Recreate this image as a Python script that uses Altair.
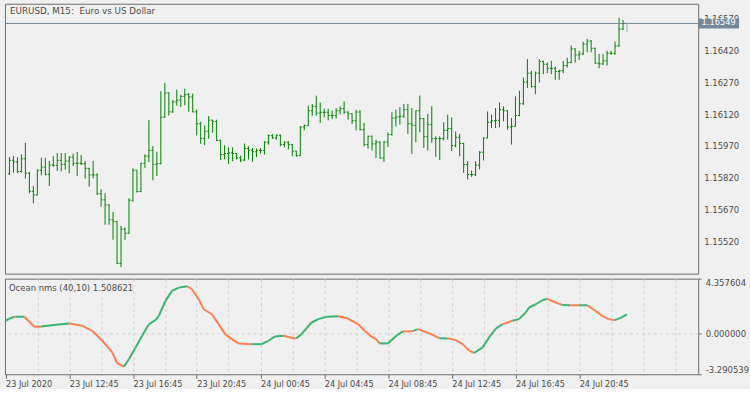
import altair as alt
import pandas as pd

# ---------------- data ----------------
bar_open = [
    1.15842, 1.15905, 1.15897, 1.15852, 1.15912, 1.15844, 1.15759, 1.15742, 1.15858, 1.15873,
    1.15839, 1.15883, 1.15881, 1.15905, 1.15886, 1.15902, 1.15920, 1.15891, 1.15891, 1.15889,
    1.15867, 1.15836, 1.15836, 1.15748, 1.15719, 1.15695, 1.15625, 1.15617, 1.15420, 1.15581,
    1.15562, 1.15717, 1.15858, 1.15758, 1.15891, 1.15925, 1.15952, 1.15886, 1.15889, 1.16108,
    1.16222, 1.16133, 1.16180, 1.16188, 1.16206, 1.16214, 1.16203, 1.16133, 1.16077, 1.16008,
    1.16042, 1.16094, 1.16088, 1.15998, 1.15932, 1.15937, 1.15940, 1.15937, 1.15916, 1.15906,
    1.15960, 1.15952, 1.15945, 1.15952, 1.15951, 1.15990, 1.16021, 1.16010, 1.16023, 1.15979,
    1.15990, 1.15979, 1.15948, 1.15927, 1.16062, 1.16068, 1.16138, 1.16159, 1.16127, 1.16131,
    1.16131, 1.16116, 1.16116, 1.16138, 1.16148, 1.16132, 1.16124, 1.16091, 1.16132, 1.16049,
    1.15979, 1.16018, 1.15982, 1.15991, 1.15916, 1.15991, 1.16026, 1.16104, 1.16109, 1.16112,
    1.16143, 1.16077, 1.16070, 1.16138, 1.16101, 1.16016, 1.16073, 1.16007, 1.16007, 1.16007,
    1.16046, 1.16054, 1.15974, 1.16013, 1.15984, 1.15885, 1.15838, 1.15838, 1.15882, 1.15943,
    1.16010, 1.16084, 1.16091, 1.16093, 1.16143, 1.16138, 1.16062, 1.16065, 1.16116, 1.16171,
    1.16273, 1.16315, 1.16252, 1.16315, 1.16370, 1.16357, 1.16338, 1.16338, 1.16323, 1.16326,
    1.16351, 1.16365, 1.16429, 1.16401, 1.16406, 1.16452, 1.16466, 1.16432, 1.16362, 1.16359,
    1.16373, 1.16409, 1.16409, 1.16443, 1.16523,
]
bar_high = [
    1.15920, 1.15925, 1.15920, 1.15933, 1.15987, 1.15850, 1.15784, 1.15862, 1.15917, 1.15917,
    1.15902, 1.15925, 1.15939, 1.15939, 1.15939, 1.15925, 1.15936, 1.15944, 1.15930, 1.15902,
    1.15870, 1.15902, 1.15844, 1.15769, 1.15750, 1.15698, 1.15662, 1.15620, 1.15597, 1.15589,
    1.15727, 1.15867, 1.15859, 1.15893, 1.15933, 1.16094, 1.15972, 1.15945, 1.16230, 1.16269,
    1.16225, 1.16188, 1.16237, 1.16214, 1.16242, 1.16222, 1.16219, 1.16144, 1.16086, 1.16069,
    1.16113, 1.16096, 1.16096, 1.16002, 1.15976, 1.15966, 1.15966, 1.15940, 1.15927, 1.15984,
    1.15971, 1.15963, 1.15960, 1.15963, 1.15995, 1.16026, 1.16029, 1.16026, 1.16026, 1.15995,
    1.15995, 1.15982, 1.15950, 1.16065, 1.16073, 1.16162, 1.16170, 1.16209, 1.16177, 1.16148,
    1.16148, 1.16140, 1.16151, 1.16159, 1.16182, 1.16135, 1.16126, 1.16143, 1.16140, 1.16081,
    1.16021, 1.16021, 1.16002, 1.15995, 1.15995, 1.16037, 1.16131, 1.16143, 1.16156, 1.16170,
    1.16171, 1.16151, 1.16140, 1.16210, 1.16104, 1.16123, 1.16159, 1.16018, 1.16018, 1.16084,
    1.16120, 1.16107, 1.16041, 1.16029, 1.15987, 1.15901, 1.15857, 1.15901, 1.15948, 1.16013,
    1.16135, 1.16120, 1.16151, 1.16177, 1.16159, 1.16141, 1.16104, 1.16206, 1.16232, 1.16295,
    1.16381, 1.16326, 1.16323, 1.16381, 1.16374, 1.16365, 1.16373, 1.16346, 1.16331, 1.16373,
    1.16388, 1.16445, 1.16432, 1.16420, 1.16463, 1.16476, 1.16471, 1.16435, 1.16406, 1.16404,
    1.16420, 1.16420, 1.16463, 1.16576, 1.16565,
]
bar_low = [
    1.15836, 1.15847, 1.15844, 1.15848, 1.15819, 1.15750, 1.15702, 1.15740, 1.15834, 1.15834,
    1.15784, 1.15875, 1.15855, 1.15852, 1.15861, 1.15844, 1.15878, 1.15831, 1.15883, 1.15819,
    1.15781, 1.15820, 1.15742, 1.15687, 1.15602, 1.15602, 1.15531, 1.15417, 1.15402, 1.15530,
    1.15560, 1.15711, 1.15753, 1.15755, 1.15869, 1.15897, 1.15811, 1.15831, 1.15886, 1.16105,
    1.16116, 1.16128, 1.16162, 1.16156, 1.16164, 1.16133, 1.16131, 1.16022, 1.15983, 1.15977,
    1.16006, 1.16034, 1.15995, 1.15906, 1.15909, 1.15888, 1.15901, 1.15909, 1.15896, 1.15901,
    1.15909, 1.15898, 1.15920, 1.15937, 1.15932, 1.15979, 1.16007, 1.16002, 1.15971, 1.15966,
    1.15956, 1.15924, 1.15921, 1.15924, 1.16046, 1.16066, 1.16115, 1.16115, 1.16081, 1.16107,
    1.16093, 1.16099, 1.16101, 1.16120, 1.16123, 1.16096, 1.16076, 1.16045, 1.16046, 1.15971,
    1.15959, 1.15951, 1.15916, 1.15912, 1.15898, 1.15968, 1.16021, 1.16065, 1.16073, 1.16104,
    1.16029, 1.15935, 1.15990, 1.16037, 1.15963, 1.15951, 1.15987, 1.15921, 1.15906, 1.15998,
    1.16002, 1.15948, 1.15966, 1.15924, 1.15846, 1.15815, 1.15827, 1.15831, 1.15862, 1.15904,
    1.16008, 1.16057, 1.16057, 1.16060, 1.16088, 1.16049, 1.15979, 1.16063, 1.16112, 1.16166,
    1.16245, 1.16248, 1.16216, 1.16271, 1.16310, 1.16315, 1.16310, 1.16284, 1.16284, 1.16315,
    1.16341, 1.16363, 1.16365, 1.16377, 1.16401, 1.16413, 1.16413, 1.16359, 1.16338, 1.16354,
    1.16351, 1.16401, 1.16401, 1.16440, 1.16518,
]
bar_close = [
    1.15905, 1.15897, 1.15852, 1.15912, 1.15844, 1.15759, 1.15742, 1.15858, 1.15873, 1.15839,
    1.15883, 1.15881, 1.15905, 1.15886, 1.15902, 1.15920, 1.15891, 1.15891, 1.15889, 1.15867,
    1.15836, 1.15836, 1.15748, 1.15719, 1.15695, 1.15625, 1.15617, 1.15420, 1.15581, 1.15562,
    1.15717, 1.15858, 1.15758, 1.15891, 1.15925, 1.15952, 1.15886, 1.15889, 1.16108, 1.16222,
    1.16133, 1.16180, 1.16188, 1.16206, 1.16214, 1.16203, 1.16133, 1.16077, 1.16008, 1.16042,
    1.16094, 1.16088, 1.15998, 1.15932, 1.15937, 1.15940, 1.15937, 1.15916, 1.15906, 1.15960,
    1.15952, 1.15945, 1.15952, 1.15951, 1.15990, 1.16021, 1.16010, 1.16023, 1.15979, 1.15990,
    1.15979, 1.15948, 1.15927, 1.16062, 1.16068, 1.16138, 1.16159, 1.16127, 1.16131, 1.16131,
    1.16116, 1.16116, 1.16138, 1.16148, 1.16132, 1.16124, 1.16091, 1.16132, 1.16049, 1.15979,
    1.16018, 1.15982, 1.15991, 1.15916, 1.15991, 1.16026, 1.16104, 1.16109, 1.16112, 1.16143,
    1.16077, 1.16070, 1.16138, 1.16101, 1.16016, 1.16073, 1.16007, 1.16007, 1.16007, 1.16046,
    1.16054, 1.15974, 1.16013, 1.15984, 1.15885, 1.15838, 1.15838, 1.15882, 1.15943, 1.16010,
    1.16084, 1.16091, 1.16093, 1.16143, 1.16138, 1.16062, 1.16065, 1.16116, 1.16171, 1.16273,
    1.16315, 1.16252, 1.16315, 1.16370, 1.16357, 1.16338, 1.16338, 1.16323, 1.16326, 1.16351,
    1.16365, 1.16429, 1.16401, 1.16406, 1.16452, 1.16466, 1.16432, 1.16362, 1.16359, 1.16373,
    1.16409, 1.16409, 1.16443, 1.16523, 1.16549,
]

bid_price = 1.16549
live_bar = {"i": 155, "lo": 1.16507, "hi": 1.16554}

# indicator "Ocean nms (40,10)": bar position, value, colour of the segment that starts there
ind_x = [-1, 0, 1.25, 1.65, 3.75, 5, 6.25, 7.9, 11.65, 15, 18.3, 20.8, 23.3, 25.8, 27, 28.75,
         30, 31.65, 33.3, 35, 36.65, 37.5, 39.15, 40.8, 42.5, 44.6, 45.8, 47.5, 48.75, 50.8,
         52.5, 54.15, 55.8, 57.5, 60.8, 63.3, 65, 66.65, 68.75, 70.8, 72, 73.3, 75.8, 77.5,
         79.6, 82.5, 85, 87.5, 89.15, 90.8, 92, 92.9, 95, 97.1, 98.75, 101.25, 102.5, 105.4,
         107.9, 110, 112.1, 113.75, 115.4, 116.65, 118.75, 120.4, 122.1, 123.75, 126.25, 127.9,
         129.6, 130.4, 132.1, 133.75, 135, 137.1, 138.75, 140.8, 142.9, 145, 147.1, 148.75,
         150.4, 151.9, 153.3, 155]
ind_v = [0.99, 1.17, 1.31, 1.31, 1.31, 0.91, 0.51, 0.53, 0.67, 0.77, 0.59, 0.19, -0.61, -1.54,
         -2.39, -2.68, -2.07, -1.14, -0.21, 0.72, 1.04, 1.39, 2.58, 3.38, 3.64, 3.75, 3.51, 2.71,
         1.91, 1.51, 0.72, -0.08, -0.48, -0.82, -0.88, -0.88, -0.61, -0.26, -0.21, -0.37, -0.42,
         -0.08, 0.85, 1.12, 1.31, 1.35, 1.17, 0.72, 0.19, -0.26, -0.48, -0.82, -0.82, -0.21,
         0.14, 0.16, 0.32, -0.02, -0.40, -0.42, -0.56, -0.88, -1.40, -1.59, -1.14, -0.34, 0.37,
         0.72, 0.99, 1.12, 1.65, 2.05, 2.31, 2.63, 2.74, 2.45, 2.26, 2.23, 2.23, 2.23, 1.78,
         1.39, 1.12, 1.04, 1.20, 1.51]
ind_col = ["up", "up", "dn", "up", "dn", "dn", "dn", "up", "up", "dn", "dn", "dn", "dn", "dn",
           "dn", "up", "up", "up", "up", "up", "up", "up", "up", "up", "up", "dn", "dn", "dn",
           "dn", "dn", "dn", "dn", "dn", "dn", "up", "up", "up", "up", "dn", "dn", "up", "up",
           "up", "up", "up", "dn", "dn", "dn", "dn", "dn", "dn", "up", "up", "up", "dn", "up",
           "dn", "dn", "up", "dn", "dn", "dn", "dn", "up", "up", "up", "up", "dn", "up", "up",
           "up", "up", "up", "up", "dn", "dn", "up", "dn", "up", "dn", "dn", "dn", "dn", "up",
           "up"]
ind_name = "Ocean nms (40,10) 1.508621"
ind_ticks = [-3.290539, 0.0, 4.357604]

price_ticks = [1.15520, 1.15670, 1.15820, 1.15970, 1.16120, 1.16270, 1.16420, 1.16570]
time_pos = [-1, 15, 31, 47, 63, 79, 95, 111, 127, 143]
time_text = ["23 Jul 2020", "23 Jul 12:45", "23 Jul 16:45", "23 Jul 20:45", "24 Jul 00:45",
             "24 Jul 04:45", "24 Jul 08:45", "24 Jul 12:45", "24 Jul 16:45", "24 Jul 20:45"]
grid_pos = [7, 15, 23, 31, 39, 47, 55, 63, 71, 79, 87, 95, 103, 111, 119, 127, 135, 143,
            151, 159, 167]
chart_title = "EURUSD, M15:\u00a0 Euro vs US Dollar"

# ---------------- styling ----------------
BG = "#f0f0f0"
FRAME = "#6e6e6e"
GRID = "#d2d2d2"
TXT = "#4c4c4c"
BAR = "#008000"
UP = "#3cb371"
DN = "#ff7f50"
BIDC = "#778899"
FONT = "DejaVu Sans"

W = 696
H_MAIN = 271
H_IND = 96

xs = alt.Scale(domain=[-1.125, -1.125 + W / 4], nice=False, zero=False)
ys = alt.Scale(domain=[1.1537141, 1.1664172], nice=False, zero=False)
ysi = alt.Scale(domain=[ind_ticks[0], ind_ticks[-1]], nice=False, zero=False)

bars = pd.DataFrame({"i": list(range(len(bar_open))), "o": bar_open, "h": bar_high,
                     "l": bar_low, "c": bar_close})

main_x_axis = alt.Axis(values=grid_pos, labels=False, ticks=False, domain=False, title=None,
                       grid=True, minExtent=0, maxExtent=0)
main_y_axis = alt.Axis(orient="right", values=price_ticks, labels=False, title=None,
                       grid=True, tickSize=3, domain=False, minExtent=0)

hl = alt.Chart(bars).mark_rule(color=BAR, strokeWidth=1).encode(
    x=alt.X("i:Q", scale=xs, axis=main_x_axis),
    y=alt.Y("l:Q", scale=ys, axis=main_y_axis),
    y2="h:Q",
)
op = alt.Chart(bars).transform_calculate(a="datum.i - 0.375").mark_rule(
    color=BAR, strokeWidth=1).encode(x=alt.X("a:Q", scale=xs, axis=None), x2="i:Q",
                                     y=alt.Y("o:Q", scale=ys, axis=None))
cl = alt.Chart(bars).transform_calculate(b="datum.i + 0.375").mark_rule(
    color=BAR, strokeWidth=1).encode(x=alt.X("i:Q", scale=xs, axis=None), x2="b:Q",
                                     y=alt.Y("c:Q", scale=ys, axis=None))

price_lab = alt.Chart(pd.DataFrame({"p": price_ticks})).mark_text(
    align="left", baseline="middle", font=FONT, fontSize=8.5, color=TXT).encode(
    x=alt.value(W + 6), y=alt.Y("p:Q", scale=ys, axis=None), text=alt.Text("p:Q", format=".5f"))

bid_df = pd.DataFrame({"p": [bid_price]})
bid_line = alt.Chart(bid_df).mark_rule(color=BIDC, strokeWidth=1).encode(
    y=alt.Y("p:Q", scale=ys, axis=None), x=alt.value(0), x2=alt.value(W))
bid_box = alt.Chart(bid_df).mark_point(
    shape="M -1 -0.244 L 1 -0.244 L 1 0.244 L -1 0.244 Z", size=1681, filled=True,
    opacity=1, color=BIDC, strokeWidth=0).encode(
    x=alt.value(W + 20.5), y=alt.Y("p:Q", scale=ys, axis=None))
bid_txt = alt.Chart(bid_df).mark_text(color="white", font=FONT, fontSize=8.3,
                                      align="center", baseline="middle").encode(
    x=alt.value(W + 20.5), y=alt.Y("p:Q", scale=ys, axis=None),
    text=alt.Text("p:Q", format=".5f"))

live_df = pd.DataFrame([live_bar])
live = alt.Chart(live_df).mark_rule(color="#a8a8a8", strokeWidth=1).encode(
    x=alt.X("i:Q", scale=xs, axis=None), y=alt.Y("lo:Q", scale=ys, axis=None), y2="hi:Q")

title_txt = alt.Chart(pd.DataFrame({"t": [chart_title]})).mark_text(
    align="left", baseline="middle", font=FONT, fontSize=8.8, color=TXT).encode(
    x=alt.value(5), y=alt.value(7.5), text="t:N")

main = alt.layer(hl, bid_line, op, cl, live, price_lab, bid_box, bid_txt, title_txt).properties(
    width=W, height=H_MAIN)

# ---------------- indicator panel ----------------
rows = []
for k in range(len(ind_x) - 1):
    c = ind_col[k] if k < len(ind_col) else "up"
    rows.append({"seg": k, "x": ind_x[k], "v": ind_v[k], "col": c})
    rows.append({"seg": k, "x": ind_x[k + 1], "v": ind_v[k + 1], "col": c})
seg_df = pd.DataFrame(rows)

label_expr = " : ".join(f"datum.value == {p} ? '{t}'" for p, t in zip(time_pos, time_text)) + " : ''"
tick_test = "indexof([" + ",".join(str(p) for p in time_pos) + "], datum.value) < 0"

ind_x_axis = alt.Axis(
    values=sorted(set(grid_pos + time_pos)), labelExpr=label_expr, title=None, grid=True,
    gridOpacity={"condition": {"test": "datum.value < 0", "value": 0}, "value": 1},
    tickOpacity={"condition": {"test": tick_test, "value": 0}, "value": 1},
    tickSize=4, labelPadding=2, labelAlign="left", labelBaseline="top", labelFontSize=8.2,
    labelFlush=False, labelOverlap=False, labelBound=False, domain=False)
ind_y_axis = alt.Axis(
    orient="right", values=ind_ticks, title=None, grid=True,
    gridOpacity={"condition": {"test": "datum.value != 0", "value": 0}, "value": 1},
    labelExpr="datum.value < 0 ? '-' + format(-datum.value, '.6f') : format(datum.value, '.6f')",
    labelFlush=True, labelOverlap=False, tickSize=3, labelPadding=4, domain=False)

ind_line = alt.Chart(seg_df).mark_line(strokeWidth=2, strokeCap="butt").encode(
    x=alt.X("x:Q", scale=xs, axis=ind_x_axis),
    y=alt.Y("v:Q", scale=ysi, axis=ind_y_axis),
    color=alt.Color("col:N", scale=alt.Scale(domain=["up", "dn"], range=[UP, DN]), legend=None),
    detail="seg:N",
    order="x:Q",
)
ind_title = alt.Chart(pd.DataFrame({"t": [ind_name]})).mark_text(
    align="left", baseline="middle", font=FONT, fontSize=8.5, color=TXT).encode(
    x=alt.value(4), y=alt.value(9), text="t:N")

ind = alt.layer(ind_line, ind_title).properties(width=W, height=H_IND)

chart = alt.vconcat(main, ind, spacing=3).properties(
    padding={"left": 1, "top": 2, "right": 0, "bottom": 0},
    background=BG,
).configure_view(
    stroke=FRAME, strokeWidth=1
).configure_axis(
    labelFont=FONT, labelFontSize=8.5, labelColor=TXT, tickColor=FRAME,
    gridColor=GRID, gridDash=[3, 3], gridWidth=1,
)

chart.save("out.html", embed_options={"renderer": "svg", "actions": False})
